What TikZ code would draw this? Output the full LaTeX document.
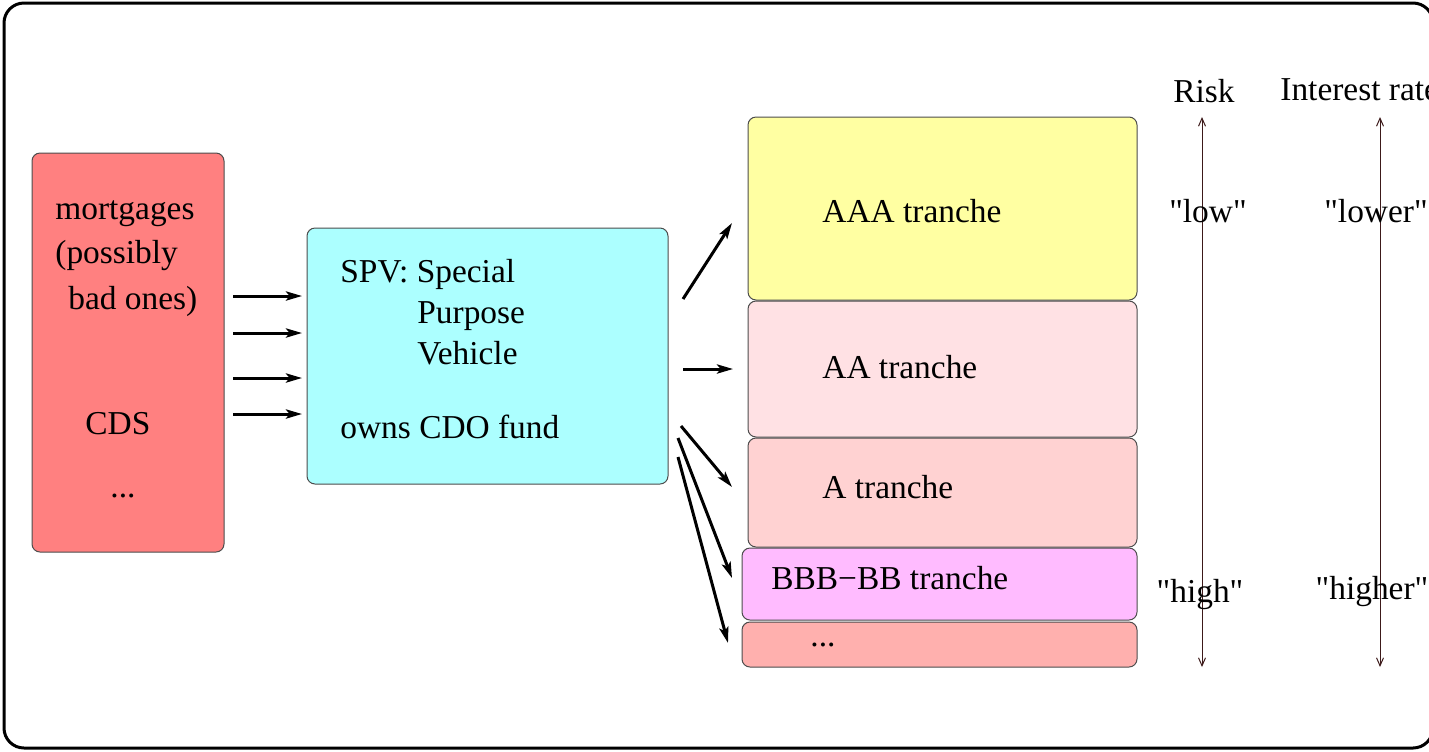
\documentclass[tikz,border=0pt]{standalone}
\usepackage{fontspec}
\setmainfont{Liberation Serif}
\usetikzlibrary{arrows.meta}

\definecolor{poolred}{RGB}{255,128,128}
\definecolor{spvcyan}{RGB}{172,255,255}
\definecolor{aaayellow}{RGB}{255,255,162}
\definecolor{aapink}{RGB}{255,225,228}
\definecolor{apink}{RGB}{255,210,210}
\definecolor{bbbpink}{RGB}{255,187,255}
\definecolor{restred}{RGB}{255,176,174}
\definecolor{axisbrown}{RGB}{60,25,25}

\newcommand{\qt}[1]{\textquotedbl#1\textquotedbl}

\begin{document}
\begin{tikzpicture}[x=0.5pt,y=-0.5pt,
		font=\fontsize{16.7}{20}\selectfont,
		box/.style={draw=black!70, line width=0.5pt, rounded corners=4pt, inner sep=0pt},
		lbl/.style={anchor=base west, inner sep=0pt},
		feed/.style={line width=1.5pt, -{Stealth[length=8pt,width=4.6pt,inset=1.8pt]}},
		scale arrow/.style={axisbrown, line width=0.5pt, {Straight Barb[length=4pt,width=3.5pt]}-{Straight Barb[length=4pt,width=3.5pt]}}]
	\clip (0,0) rectangle (1429,751);
	\draw[line width=1.5pt, rounded corners=10pt] (4,3) rectangle (1433,748);

	% pool of loans
	\node[box, fill=poolred, minimum width=96pt, minimum height=199.5pt] (pool) at (128,352.5) {};
	\node[lbl] (mort) at (55,219) {mortgages};
	\node[lbl] (poss) at (55,263) {(possibly};
	\node[lbl] (bad) at (68,309) {bad ones)};
	\node[lbl] (cds) at (85,434) {CDS};
	\node[lbl] (etc) at (110,497) {...};

	% special purpose vehicle
	\node[box, fill=spvcyan, minimum width=180.5pt, minimum height=128pt] (spv) at (487.5,356) {};
	\node[lbl] (spvname) at (340,282) {SPV: Special};
	\node[lbl] (purpose) at (417,323) {Purpose};
	\node[lbl] (vehicle) at (417,364) {Vehicle};
	\node[lbl] (owns) at (340,438) {owns CDO fund};

	% tranches
	\node[box, fill=aaayellow, minimum width=194.5pt, minimum height=91.5pt] (aaa) at (942.5,208.5) {};
	\node[box, fill=aapink, minimum width=194.5pt, minimum height=68pt] (aa) at (942.5,369) {};
	\node[box, fill=apink, minimum width=194.5pt, minimum height=54.5pt] (a) at (942.5,492.5) {};
	\node[box, fill=bbbpink, minimum width=197.5pt, minimum height=36pt] (bbb) at (939.5,584) {};
	\node[box, fill=restred, minimum width=197.5pt, minimum height=22.5pt] (rest) at (939.5,644.5) {};
	\node[lbl] (aaatxt) at (822,222) {AAA tranche};
	\node[lbl] (aatxt) at (822,378) {AA tranche};
	\node[lbl] (atxt) at (822,498) {A tranche};
	\node[lbl] (bbbtxt) at (771,589) {BBB−BB tranche};
	\node[lbl] (resttxt) at (810,646) {...};

	% loans go into the fund
	\foreach \y [count=\i] in {296,333,378,414} {
		\coordinate (in\i) at (233,\y);
		\coordinate (out\i) at (302,\y);
		\draw[feed] (in\i) -- (out\i);
	}

	% fund is cut into tranches
	\coordinate (s1) at (683,299);  \coordinate (t1) at (732,223);
	\coordinate (s2) at (683,369);  \coordinate (t2) at (733,369);
	\coordinate (s3) at (681,426);  \coordinate (t3) at (732,487);
	\coordinate (s4) at (678,438);  \coordinate (t4) at (732,578);
	\coordinate (s5) at (678,457);  \coordinate (t5) at (728,643);
	\foreach \i in {1,...,5}
		\draw[feed] (s\i) -- (t\i);

	% risk and interest scales
	\coordinate (risktop) at (1202,117);
	\coordinate (riskbot) at (1202,667);
	\coordinate (ratetop) at (1380,117);
	\coordinate (ratebot) at (1380,667);
	\draw[scale arrow] (risktop) -- (riskbot);
	\draw[scale arrow] (ratetop) -- (ratebot);
	\node[anchor=base, inner sep=0pt] (risk) at (1204,102) {Risk};
	\node[lbl] (rate) at (1280,100) {Interest rate};
	\node[anchor=base, inner sep=0pt] (low) at (1208,222) {\qt{low}};
	\node[anchor=base, inner sep=0pt] (high) at (1200,602) {\qt{high}};
	\node[anchor=base, inner sep=0pt] (lower) at (1376,222) {\qt{lower}};
	\node[anchor=base, inner sep=0pt] (higher) at (1372,599) {\qt{higher}};
\end{tikzpicture}
\end{document}
